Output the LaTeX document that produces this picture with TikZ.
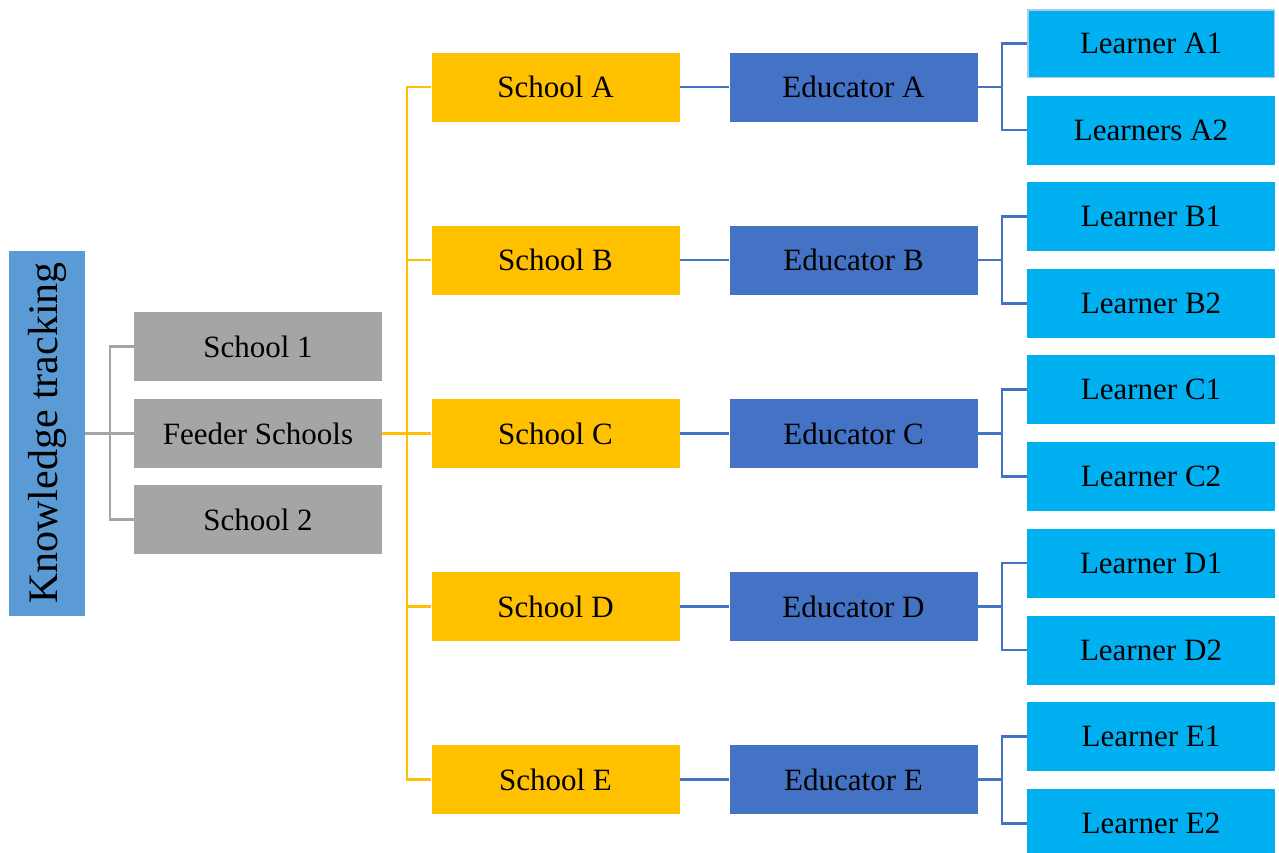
\documentclass[tikz,border=0pt]{standalone}
\usepackage{fontspec}
\setmainfont{Liberation Serif}
\definecolor{cgray}{HTML}{A5A5A5}
\definecolor{cyel}{HTML}{FFC000}
\definecolor{cedu}{HTML}{4472C4}
\definecolor{clrn}{HTML}{00B0F0}
\definecolor{ckt}{HTML}{5B9BD5}
\definecolor{cbord}{HTML}{A9CCEE}
\tikzset{
  box/.style={rectangle, inner sep=0pt, minimum width=248pt, minimum height=69pt, font=\fontsize{31}{33}\selectfont, text=black},
  graybox/.style={box, fill=cgray},
  schoolbox/.style={box, fill=cyel},
  edubox/.style={box, fill=cedu},
  lrnbox/.style={box, fill=clrn},
  conn/.style={line width=2.2pt},
}
\begin{document}
\begin{tikzpicture}[x=1pt,y=-1pt]
\useasboundingbox (0,0) rectangle (1279,852);
\node[rectangle, fill=ckt, minimum width=76pt, minimum height=365pt, inner sep=0pt, font=\fontsize{42}{44}\selectfont] (kt) at (47,433) {\rotatebox{90}{Knowledge tracking}};
% gray
\node[graybox] (s1) at (258,346.5) {School 1};
\node[graybox] (fs) at (258,433.5) {Feeder Schools};
\node[graybox] (s2) at (258,519.5) {School 2};
% schools
\foreach \n/\y in {A/87,B/260,C/433.5,D/606.5,E/779.5}{
  \node[schoolbox] (sch\n) at (555.5,\y) {School \n};
  \node[edubox] (edu\n) at (853.5,\y) {Educator \n};
}
% learners
\node[lrnbox, draw=cbord, line width=1.5pt, minimum width=246.5pt, minimum height=67.5pt] (lA1) at (1151,43.5) {Learner A1};
\node[lrnbox] (lA2) at (1151,130) {Learners A2};
\node[lrnbox] (lB1) at (1151,216.5) {Learner B1};
\node[lrnbox] (lB2) at (1151,303.5) {Learner B2};
\node[lrnbox] (lC1) at (1151,389.5) {Learner C1};
\node[lrnbox] (lC2) at (1151,476.5) {Learner C2};
\node[lrnbox] (lD1) at (1151,563) {Learner D1};
\node[lrnbox] (lD2) at (1151,650) {Learner D2};
\node[lrnbox] (lE1) at (1151,736.5) {Learner E1};
\node[lrnbox] (lE2) at (1151,823.5) {Learner E2};
% gray connectors
\draw[conn, cgray] (kt.east |- fs.west) -- (fs.west);
\draw[conn, cgray] (s1.west) -- ++(-24,0) |- (s2.west);
% yellow
\draw[conn, cyel] (fs.east) -- (schC.west);
\draw[conn, cyel] (schA.west) -- ++(-24,0) |- (schE.west);
\foreach \n in {B,C,D}{ \draw[conn, cyel] (schA.west) ++(-24,0) |- (sch\n.west); }
% blue
\foreach \n in {A,B,C,D,E}{
  \draw[conn, cedu] (sch\n.east) -- (edu\n.west);
  \draw[conn, cedu] (edu\n.east) -- ++(24,0);
  \draw[conn, cedu] (l\n1.west) -- ++(-25,0) |- (l\n2.west);
}
\end{tikzpicture}
\end{document}
